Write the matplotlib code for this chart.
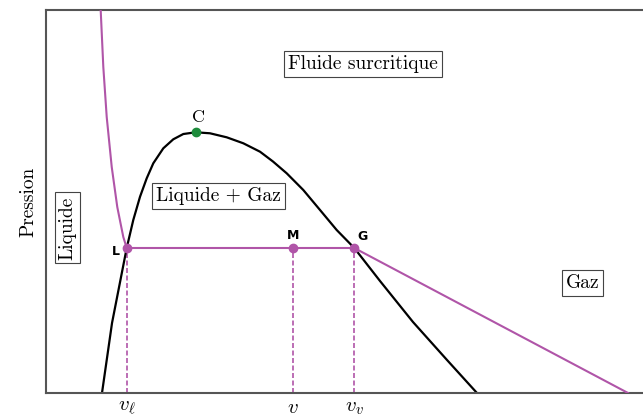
import matplotlib.pyplot as plt
import numpy as np

plt.rcParams['mathtext.fontset'] = 'cm'

# courbe de saturation (cloche)
sat_v = [0.938, 1.106, 1.352, 1.462, 1.575, 1.687, 1.797, 1.965, 2.132, 2.300, 2.508,
         2.747, 3.027, 3.305, 3.585, 3.802, 4.032, 4.310, 4.590, 4.869, 5.164, 5.595,
         6.147, 6.717, 7.219]
sat_p = [0.0, 1.828, 3.786, 4.517, 5.125, 5.606, 5.997, 6.389, 6.624, 6.762, 6.807,
         6.781, 6.676, 6.520, 6.300, 6.044, 5.736, 5.300, 4.778, 4.256, 3.786, 2.924,
         1.854, 0.862, 0.0]

# isotherme
iso_v = [0.916, 0.960, 1.017, 1.101, 1.194, 1.250, 1.295, 1.352, 5.164, 9.749]
iso_p = [10.0, 8.512, 7.206, 5.901, 4.856, 4.420, 4.073, 3.786, 3.786, 0.0]

# points L, M, G et C
pts_name = ['L', 'M', 'G']
pts_v = [1.352, 4.132, 5.164]
pts_p = [3.786, 3.786, 3.786]
crit_v, crit_p = 2.508, 6.807
tick_labels = [r'$v_\ell$', r'$v$', r'$v_v$']

purple = '#b055a8'
green = '#1e8c3c'

fig = plt.figure(figsize=(6.43, 4.17), dpi=100)
ax = fig.add_axes([46 / 643, 24 / 417, 597 / 643, 383 / 417])

ax.plot(sat_v, sat_p, color='black', lw=1.6, zorder=2)
ax.plot(iso_v, iso_p, color=purple, lw=1.5, zorder=3)
for v, p in zip(pts_v, pts_p):
    ax.plot([v, v], [0, p], color=purple, lw=1.2, ls=(0, (3, 1.5)), zorder=1)
ax.plot(pts_v, pts_p, 'o', color=purple, ms=6, zorder=4)
ax.plot([crit_v], [crit_p], 'o', color=green, ms=6, zorder=4)

# etiquettes des points
ax.text(pts_v[0] - 0.12, pts_p[0] - 0.1, 'L', ha='right', va='center', fontsize=9, fontweight='bold')
ax.text(pts_v[1], pts_p[1] + 0.15, 'M', ha='center', va='bottom', fontsize=9, fontweight='bold')
ax.text(pts_v[2] + 0.05, pts_p[2] + 0.12, 'G', ha='left', va='bottom', fontsize=9, fontweight='bold')
ax.text(crit_v + 0.05, crit_p + 0.2, 'C', ha='center', va='bottom', fontsize=13, family='cmr10')

box = dict(boxstyle='square,pad=0.2', fc='white', ec='#444444', lw=0.8)
ax.text(5.31, 8.59, 'Fluide surcritique', ha='center', va='center', fontsize=14, family='cmr10', bbox=box)
ax.text(2.89, 5.15, 'Liquide + Gaz', ha='center', va='center', fontsize=14, family='cmr10', bbox=box)
ax.text(0.36, 4.31, 'Liquide', ha='center', va='center', rotation=90, fontsize=14, family='cmr10', bbox=box)
ax.text(8.987, 2.872, 'Gaz', ha='center', va='center', fontsize=14, family='cmr10', bbox=box)

ax.set_xlim(0, 10)
ax.set_ylim(0, 10)
ax.set_xticks(pts_v)
ax.set_xticklabels(tick_labels, fontsize=15)
ax.tick_params(axis='x', length=0, pad=3)
ax.set_yticks([])
ax.set_ylabel('Pression', fontsize=14, family='cmr10', labelpad=6)

ax.spines['right'].set_visible(False)
for s in ['left', 'bottom', 'top']:
    ax.spines[s].set_color('#555555')
    ax.spines[s].set_linewidth(1.5)

fig.savefig('out.png', dpi=100)
